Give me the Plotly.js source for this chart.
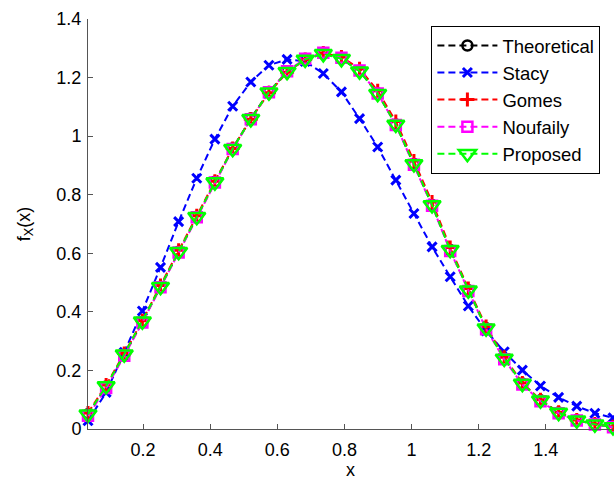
<!DOCTYPE html>
<html>
<head>
<meta charset="utf-8">
<script src="https://cdn.plot.ly/plotly-3.0.1.min.js"></script>
<style>html,body{margin:0;padding:0;background:#fff;}#chart{width:614px;height:480px;}</style>
</head>
<body>
<div id="chart"></div>
<script>
// x positions of the samples
const xVals = [0.036, 0.090, 0.144, 0.198, 0.252, 0.306, 0.360, 0.414, 0.467, 0.521,
               0.575, 0.629, 0.683, 0.737, 0.791, 0.845, 0.899, 0.953, 1.007, 1.061,
               1.115, 1.169, 1.222, 1.276, 1.330, 1.384, 1.438, 1.492, 1.546, 1.600];

const theoretical = [0.050, 0.145, 0.253, 0.366, 0.486, 0.605, 0.725, 0.844, 0.958, 1.060,
                     1.151, 1.220, 1.262, 1.282, 1.265, 1.223, 1.146, 1.040, 0.905, 0.765,
                     0.611, 0.474, 0.344, 0.241, 0.155, 0.098, 0.056, 0.030, 0.016, 0.007];

const stacy = [0.028, 0.125, 0.262, 0.403, 0.552, 0.708, 0.856, 0.990, 1.102, 1.185,
               1.242, 1.262, 1.255, 1.214, 1.151, 1.060, 0.963, 0.850, 0.736, 0.622,
               0.520, 0.420, 0.335, 0.264, 0.201, 0.147, 0.108, 0.078, 0.054, 0.038];

const gomes = [0.055, 0.150, 0.258, 0.370, 0.490, 0.610, 0.728, 0.846, 0.958, 1.058,
               1.148, 1.218, 1.262, 1.284, 1.270, 1.230, 1.155, 1.050, 0.915, 0.775,
               0.620, 0.480, 0.350, 0.245, 0.157, 0.100, 0.057, 0.031, 0.017, 0.008];

const noufaily = [0.045, 0.140, 0.250, 0.364, 0.484, 0.603, 0.723, 0.842, 0.956, 1.058,
                  1.150, 1.222, 1.264, 1.285, 1.268, 1.224, 1.146, 1.038, 0.902, 0.762,
                  0.608, 0.471, 0.341, 0.238, 0.152, 0.095, 0.054, 0.029, 0.015, 0.006];

const proposed = [0.050, 0.147, 0.255, 0.368, 0.486, 0.605, 0.725, 0.843, 0.957, 1.059,
                  1.150, 1.220, 1.262, 1.281, 1.264, 1.222, 1.145, 1.040, 0.905, 0.765,
                  0.612, 0.474, 0.344, 0.241, 0.155, 0.098, 0.056, 0.030, 0.016, 0.007];

const seriesNames = ['Theoretical', 'Stacy', 'Gomes', 'Noufaily', 'Proposed'];
const xTicks = [0.2, 0.4, 0.6, 0.8, 1.0, 1.2, 1.4];
const xTickText = ['0.2', '0.4', '0.6', '0.8', '1', '1.2', '1.4'];
const yTicks = [0, 0.2, 0.4, 0.6, 0.8, 1.0, 1.2, 1.4];
const yTickText = ['0', '0.2', '0.4', '0.6', '0.8', '1', '1.2', '1.4'];

const dashPat = '7px,4px';
function tr(name, y, color, symbol, size, mlw) {
  return {
    x: xVals, y: y, name: name, type: 'scatter', mode: 'lines+markers',
    cliponaxis: false,
    line: {color: color, width: 2, dash: dashPat},
    marker: {symbol: symbol, size: size, color: color, line: {color: color, width: mlw}}
  };
}

const data = [
  tr(seriesNames[0], theoretical, '#000000', 'circle-open', 10, 2.5),
  tr(seriesNames[1], stacy, '#0000ff', 'x-thin-open', 9, 3),
  tr(seriesNames[2], gomes, '#ff0000', 'cross-thin-open', 10, 3),
  tr(seriesNames[3], noufaily, '#ff00ff', 'square-open', 10, 2.5),
  tr(seriesNames[4], proposed, '#00ff00', 'triangle-down-open', 15, 2.5)
];

const font = {family: 'Liberation Sans, Arial, sans-serif', size: 18, color: '#000'};
const axisCol = '#555555';

const layout = {
  width: 614, height: 480,
  margin: {l: 87.5, r: 1, t: 19, b: 51},
  paper_bgcolor: '#fff', plot_bgcolor: '#fff',
  font: font,
  showlegend: true,
  legend: {
    x: 0.976, y: 0.983, xanchor: 'right', yanchor: 'top',
    bgcolor: '#fff', bordercolor: '#000', borderwidth: 1,
    font: {family: font.family, size: 18.5, color: '#000'},
    tracegroupgap: 0, itemwidth: 60
  },
  xaxis: {
    range: [0.036, 1.6], tickvals: xTicks, ticktext: xTickText,
    showgrid: false, zeroline: false, showline: true, linecolor: axisCol, linewidth: 1,
    ticks: 'inside', ticklen: 5, tickcolor: axisCol, tickfont: font,
    ticklabelstandoff: 4,
    title: {text: 'x', font: font, standoff: 2}
  },
  yaxis: {
    range: [0, 1.4], tickvals: yTicks, ticktext: yTickText,
    showgrid: false, zeroline: false, showline: true, linecolor: axisCol, linewidth: 1,
    ticks: 'inside', ticklen: 5, tickcolor: axisCol, tickfont: font,
    ticklabelstandoff: 2,
    title: {text: 'f<sub>X</sub>(x)', font: font, standoff: 21}
  }
};

Plotly.newPlot('chart', data, layout, {displayModeBar: false, staticPlot: true});
</script>
</body>
</html>
